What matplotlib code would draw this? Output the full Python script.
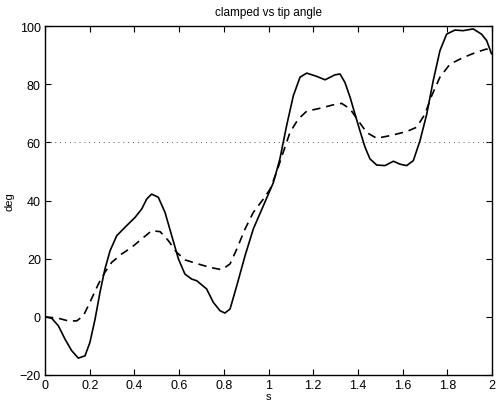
import matplotlib
matplotlib.use("Agg")
import matplotlib.pyplot as plt

# clamped angle (solid) and tip angle (dashed) against s
s_clamped = [0, 0.03, 0.06, 0.089, 0.119, 0.149, 0.179, 0.201, 0.224, 0.246, 0.268,
             0.291, 0.321, 0.358, 0.403, 0.433, 0.455, 0.477, 0.507, 0.537, 0.567,
             0.597, 0.626, 0.656, 0.679, 0.723, 0.753, 0.783, 0.805, 0.828, 0.858,
             0.895, 0.932, 0.977, 1.022, 1.051, 1.081, 1.111, 1.141, 1.171, 1.215,
             1.253, 1.297, 1.32, 1.342, 1.365, 1.387, 1.409, 1.432, 1.454, 1.484,
             1.521, 1.559, 1.588, 1.618, 1.648, 1.678, 1.708, 1.737, 1.767, 1.797,
             1.834, 1.871, 1.916, 1.953, 1.976, 1.998]
clamped = [0, -0.5, -3.1, -7.6, -11.6, -14.2, -13.4, -8.8, -0.8, 8.4, 16.4,
           22.7, 27.9, 30.8, 34.2, 37.1, 40.5, 42.2, 41.1, 35.9, 27.9,
           19.9, 14.7, 13.0, 12.4, 9.6, 5.0, 2.1, 1.3, 2.7, 10.7,
           21.0, 30.2, 38.2, 46.2, 54.3, 65.7, 76.0, 82.4, 83.8, 82.7,
           81.5, 83.2, 83.5, 80.6, 75.5, 69.7, 64.0, 58.3, 54.3, 52.2,
           52.0, 53.5, 52.5, 52.0, 53.7, 60.6, 69.7, 81.2, 91.5, 97.2,
           98.6, 98.4, 99.0, 97.2, 95.0, 90.4]

s_tip = [0, 0.06, 0.104, 0.142, 0.172, 0.201, 0.239, 0.268, 0.298, 0.343, 0.388,
         0.433, 0.477, 0.515, 0.552, 0.589, 0.626, 0.671, 0.738, 0.791, 0.828,
         0.858, 0.895, 0.932, 0.977, 1.007, 1.036, 1.066, 1.096, 1.133, 1.171,
         1.23, 1.29, 1.327, 1.365, 1.402, 1.439, 1.484, 1.544, 1.618, 1.663,
         1.7, 1.73, 1.767, 1.812, 1.872, 1.931, 1.976, 1.998]
tip = [0, -0.5, -1.4, -1.4, 0.4, 5.0, 11.3, 15.3, 18.7, 21.6, 23.9,
       26.8, 29.6, 29.3, 26.2, 22.2, 19.6, 18.5, 17.0, 16.2, 18.2,
       23.3, 30.2, 35.9, 40.5, 43.9, 49.7, 56.6, 63.4, 68.0, 70.7,
       71.7, 72.9, 73.4, 71.5, 67.4, 63.4, 61.4, 62.3, 63.7, 65.2,
       69.7, 76.0, 82.4, 86.9, 89.2, 91.0, 92.1, 91.0]

x_ticks = [0, 0.2, 0.4, 0.6, 0.8, 1, 1.2, 1.4, 1.6, 1.8, 2]
x_labels = ["0", "0.2", "0.4", "0.6", "0.8", "1", "1.2", "1.4", "1.6", "1.8", "2"]
y_ticks = [-20, 0, 20, 40, 60, 80, 100]
ref_level = 60

plt.rcParams["font.family"] = ["Liberation Sans", "DejaVu Sans"]
plt.rcParams["font.size"] = 9

fig = plt.figure(figsize=(4.97, 4.02), dpi=100)
ax = fig.add_axes([45 / 497, 1 - 376 / 402, 447 / 497, 349 / 402])

ax.axhline(ref_level, color="0.35", linestyle=(0, (1, 4)), linewidth=0.7)
ax.plot(s_clamped, clamped, color="black", linewidth=1.2,
        solid_joinstyle="round", solid_capstyle="round")
ax.plot(s_tip, tip, color="black", linewidth=1.2, linestyle=(0, (5, 3.5)))

ax.set_xlim(0, 2)
ax.set_ylim(-20, 100)
ax.set_xticks(x_ticks)
ax.set_xticklabels(x_labels)
ax.set_yticks(y_ticks)
ax.tick_params(direction="in", top=True, right=True, length=4, width=0.8,
               labelsize=9, pad=3)
for side in ax.spines.values():
    side.set_linewidth(1.0)

ax.set_title("clamped vs tip angle", fontsize=8.5, pad=8)
ax.set_xlabel("s", fontsize=8, labelpad=0)
ax.set_ylabel("deg", fontsize=8, labelpad=4)

fig.savefig("out.png", dpi=100)
